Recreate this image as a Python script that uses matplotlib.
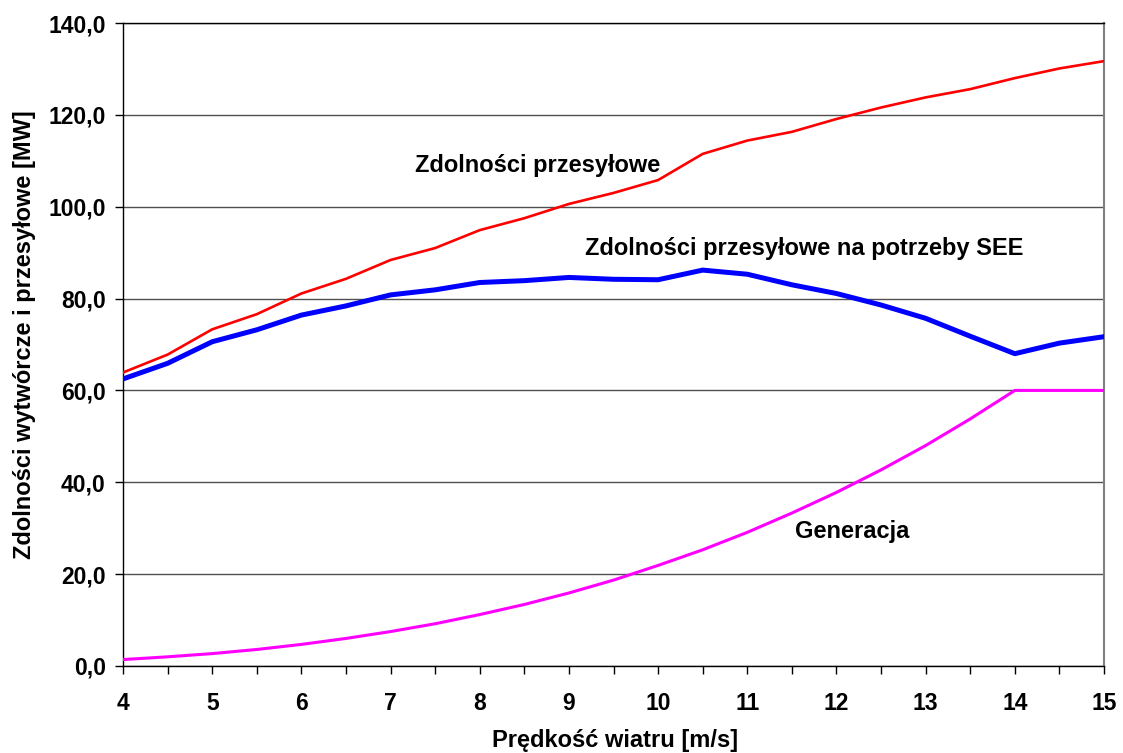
import numpy as np
import matplotlib
matplotlib.use('Agg')
import matplotlib.pyplot as plt
from matplotlib.ticker import MultipleLocator, FuncFormatter

plt.rcParams['font.family'] = ['Liberation Sans', 'DejaVu Sans']
plt.rcParams['font.weight'] = 'bold'

# wind speed [m/s]
wind_speed = [4, 4.5, 5, 5.5, 6, 6.5, 7, 7.5, 8, 8.5, 9, 9.5, 10, 10.5,
              11, 11.5, 12, 12.5, 13, 13.5, 14, 14.5, 15]

transfer_capacity = [63.9, 67.8, 73.3, 76.6, 81.1, 84.3, 88.4, 91.0, 94.9, 97.5,
                     100.6, 103.0, 105.8, 111.5, 114.4, 116.3, 119.1, 121.6,
                     123.8, 125.6, 128.0, 130.1, 131.7]

transfer_capacity_see = [62.5, 65.9, 70.6, 73.2, 76.4, 78.4, 80.8, 81.9, 83.5, 83.9,
                         84.6, 84.2, 84.1, 86.2, 85.3, 83.0, 81.1, 78.6,
                         75.7, 71.8, 68.0, 70.3, 71.7]

generation = [1.4, 2.0, 2.7, 3.6, 4.7, 6.0, 7.5, 9.2, 11.2, 13.4,
              15.9, 18.7, 21.9, 25.3, 29.1, 33.3, 37.8, 42.7,
              48.0, 53.8, 60.0, 60.0, 60.0]

fig = plt.figure(figsize=(11.23, 7.53), dpi=100)
ax = fig.add_axes([123 / 1123, 1 - 666 / 753, (1104 - 123) / 1123, (666 - 23) / 753])

ax.plot(wind_speed, generation, color='#FF00FF', linewidth=2.2, zorder=3)
ax.plot(wind_speed, transfer_capacity_see, color='#0000FF', linewidth=3.6, zorder=4)
ax.plot(wind_speed, transfer_capacity, color='#FF0000', linewidth=1.9, zorder=5)

ax.set_xlim(4, 15)
ax.set_ylim(0, 140)
ax.xaxis.set_major_locator(MultipleLocator(1))
ax.xaxis.set_minor_locator(MultipleLocator(0.5))
ax.yaxis.set_major_locator(MultipleLocator(20))
ax.yaxis.set_major_formatter(FuncFormatter(lambda v, p: f"{v:.1f}".replace('.', ',')))

ax.tick_params(axis='both', which='both', direction='out', length=5.5, width=1,
               color='black', labelsize=16.5)
ax.tick_params(axis='x', which='major', pad=13)
ax.tick_params(axis='y', which='major', pad=7)
for lab in ax.get_xticklabels() + ax.get_yticklabels():
    lab.set_fontweight('bold')

# horizontal gridlines
ax.grid(axis='y', color='#505050', linewidth=1.0, zorder=1)
ax.set_axisbelow(True)
for side in ['left', 'bottom', 'top']:
    ax.spines[side].set_color('black')
    ax.spines[side].set_linewidth(1)
ax.spines['right'].set_color('#808080')
ax.spines['right'].set_linewidth(1.5)

ax.set_xlabel('Prędkość wiatru [m/s]', fontsize=17, fontweight='bold', va='center')
ax.set_ylabel('Zdolności wytwórcze i przesyłowe [MW]', fontsize=17, fontweight='bold', va='center')
ax.xaxis.set_label_coords((615 - 123) / 981, (666 - 740) / 643)
ax.yaxis.set_label_coords((25 - 123) / 981, (666 - 335) / 643)

ax.text(7.27, 109, 'Zdolności przesyłowe', fontsize=17, fontweight='bold', va='center')
ax.text(9.18, 91, 'Zdolności przesyłowe na potrzeby SEE', fontsize=17, fontweight='bold', va='center')
ax.text(11.53, 29.2, 'Generacja', fontsize=17, fontweight='bold', va='center')

fig.savefig('out.png', dpi=100, facecolor='white')
